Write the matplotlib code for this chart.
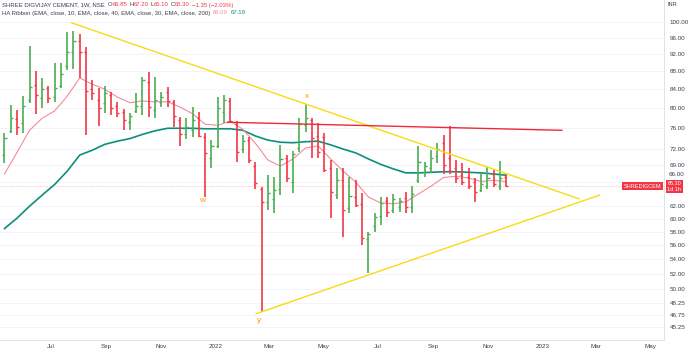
import matplotlib
matplotlib.use("Agg")
import matplotlib.pyplot as plt
import matplotlib.dates as mdates
import matplotlib.ticker as mticker
import matplotlib.transforms as mtransforms
import numpy as np
import pandas as pd

plt.rcParams['font.family'] = ['Liberation Sans Narrow', 'Liberation Sans', 'DejaVu Sans']

# weekly OHLC bars, first bar week of 2021-05-10
first_week = "2021-05-10"
opens = [70.8, 75.3, 77.7, 76.9, 81.7, 84.9, 82.1, 84.2, 82.3, 84.7,
         89.2, 92.5, 95.2, 92.5, 84.0, 81.7, 81.1, 82.7, 80.4, 79.2,
         77.1, 79.4, 80.4, 85.6, 79.6, 81.3, 83.4, 81.3, 77.5, 74.7,
         75.5, 77.9, 74.2, 70.3, 72.5, 79.2, 81.5, 76.7, 71.9, 73.6,
         68.8, 64.9, 62.7, 63.2, 64.9, 70.3, 66.0, 72.1, 76.5, 77.5,
         74.4, 74.2, 68.5, 63.8, 66.3, 61.7, 63.5, 62.4, 57.0, 58.9,
         60.4, 62.8, 61.4, 61.9, 63.3, 61.9, 66.3, 67.7, 68.5, 70.6,
         73.0, 70.3, 68.5, 67.2, 66.8, 66.0, 64.6, 65.3, 67.4, 65.3,
         66.85]
highs = [74.9, 80.6, 79.6, 82.5, 94.0, 88.1, 86.5, 84.7, 89.9, 89.9,
         97.4, 97.6, 96.9, 93.7, 86.0, 84.2, 84.7, 83.4, 81.3, 79.8,
         79.0, 83.2, 86.7, 87.8, 86.7, 83.4, 84.5, 81.7, 78.1, 77.9,
         80.2, 79.2, 74.9, 73.6, 82.3, 82.7, 82.1, 77.3, 74.5, 74.2,
         69.5, 65.1, 67.2, 66.8, 72.7, 70.8, 71.5, 77.9, 80.9, 77.9,
         76.9, 74.9, 69.9, 68.5, 68.5, 66.8, 66.3, 64.1, 58.0, 60.9,
         63.5, 63.5, 64.0, 63.3, 64.3, 65.3, 72.5, 69.5, 71.7, 73.0,
         74.5, 76.3, 69.9, 69.4, 68.5, 66.7, 67.6, 68.6, 68.1, 69.7,
         67.20]
lows = [69.4, 74.9, 74.5, 74.9, 81.1, 78.8, 80.0, 81.1, 81.3, 84.2,
        88.3, 88.5, 86.5, 74.5, 81.7, 76.3, 79.0, 78.6, 78.2, 75.5,
        75.5, 79.0, 78.6, 78.2, 77.9, 80.2, 80.2, 76.1, 72.5, 73.8,
        74.2, 74.2, 63.5, 68.5, 72.1, 76.9, 76.9, 69.5, 71.2, 69.4,
        64.9, 47.1, 61.4, 60.9, 63.8, 66.0, 64.1, 71.3, 75.1, 70.3,
        70.3, 67.7, 60.1, 63.2, 57.2, 60.9, 61.9, 56.0, 52.1, 58.0,
        59.1, 60.3, 60.9, 61.1, 60.9, 60.9, 65.8, 66.8, 67.6, 69.4,
        67.4, 67.4, 65.8, 65.5, 64.9, 62.7, 64.3, 64.9, 65.1, 64.6,
        65.10]
closes = [74.0, 77.9, 76.1, 80.4, 84.5, 82.7, 84.0, 82.1, 84.2, 87.4,
          92.5, 95.2, 92.5, 83.6, 83.2, 80.0, 83.2, 80.0, 79.0, 77.5,
          78.3, 80.4, 86.0, 80.2, 81.7, 82.3, 81.5, 78.3, 74.7, 76.1,
          77.5, 74.4, 71.2, 72.5, 80.0, 81.7, 77.3, 71.3, 73.4, 69.9,
          65.8, 62.7, 64.1, 64.6, 70.1, 66.7, 71.0, 76.7, 77.9, 74.0,
          71.3, 68.1, 64.3, 66.3, 61.4, 63.6, 62.2, 57.1, 57.7, 60.3,
          62.5, 61.1, 63.2, 62.8, 61.9, 64.0, 69.5, 68.8, 70.3, 71.9,
          69.0, 67.9, 66.7, 66.1, 65.3, 64.4, 65.6, 66.7, 65.6, 66.65,
          65.30]

ema_fast = [67.4, 71.3, 75.5, 77.9, 79.4, 82.5, 86.5, 85.1, 84.0, 82.3,
            81.1, 81.5, 81.3, 81.3, 80.2, 78.8, 76.7, 76.5, 77.3, 75.7,
            73.0, 69.9, 68.8, 70.1, 72.1, 72.5, 70.1, 67.9, 66.0, 63.5,
            62.5, 62.4, 62.7, 64.0, 65.3, 66.8, 67.0, 66.7, 66.1, 66.3,
            66.09]
ema_slow = [58.5, 60.1, 62.0, 63.8, 65.6, 67.9, 70.8, 71.7, 72.8, 73.4,
            73.9, 74.7, 75.4, 75.9, 75.9, 75.9, 75.8, 75.8, 75.8, 75.5,
            74.4, 73.6, 73.2, 73.1, 73.3, 73.4, 72.7, 71.9, 71.2, 70.1,
            69.1, 68.3, 67.6, 67.6, 67.7, 67.8, 67.8, 67.7, 67.6, 67.4,
            67.19]

# drawings (date, price)
upper_trend = [("2021-07-24", 99.8), ("2023-02-10", 63.2)]
lower_trend = [("2022-02-15", 46.9), ("2023-03-05", 63.8)]
resistance = [("2022-01-14", 77.1), ("2023-01-22", 75.5)]
wave_labels = [("w", "2021-12-17", 63.0), ("y", "2022-02-18", 46.1), ("x", "2022-04-13", 82.5)]

price_ticks = [100, 96, 92, 88, 84, 80, 76, 72, 69, 66, 62, 60, 58, 56, 54, 52, 50, 48.25, 46.75, 45.25]
month_ticks = ["2021-07-01", "2021-09-01", "2021-11-01", "2022-01-01", "2022-03-01", "2022-05-01",
               "2022-07-01", "2022-09-01", "2022-11-01", "2023-01-01", "2023-03-01", "2023-05-01"]
month_labels = ["Jul", "Sep", "Nov", "2022", "Mar", "May", "Jul", "Sep", "Nov", "2023", "Mar", "May"]
last_price = 65.30
pushed_tick = 66  # its label is pushed up by the price tag, as on TradingView

GREEN = "#4aad52"
RED = "#f23645"
TEAL = "#0b8f7c"
PINK = "#f48c95"
YELLOW = "#f7dc14"
ORANGE = "#ff9800"
TXT = "#3b3f4a"

W, H = 690, 353
fig = plt.figure(figsize=(W / 100, H / 100), dpi=100)
ax = fig.add_axes([0, 13 / H, 664 / W, 340 / H])

dates = pd.date_range(first_week, periods=len(opens), freq="7D")
x = mdates.date2num(dates)
o = np.array(opens)
c = np.array(closes)
cols = np.where(c >= o, GREEN, RED)

ax.plot(x[::2], ema_slow, color=TEAL, lw=1.2, zorder=2)
ax.plot(x[::2], ema_fast, color=PINK, lw=0.8, zorder=2)

ax.vlines(x, lows, highs, colors=cols, lw=1.2, zorder=3)
ax.hlines(o, x - 2.3, x, colors=cols, lw=1.0, zorder=3)
ax.hlines(c, x, x + 2.3, colors=cols, lw=1.0, zorder=3)

for line, col in [(upper_trend, YELLOW), (lower_trend, YELLOW), (resistance, "#f0283a")]:
    xs = mdates.date2num(pd.to_datetime([p[0] for p in line]))
    ys = [p[1] for p in line]
    ax.plot(xs, ys, color=col, lw=1.0, zorder=4)

for s, d, p in wave_labels:
    ax.text(mdates.date2num(pd.Timestamp(d)), p, s, color=ORANGE, fontsize=6,
            ha="center", va="center", zorder=5)

ax.axhline(last_price, color=RED, alpha=0.25, lw=0.8, ls=(0, (1, 1)), zorder=1)

ax.set_yscale("log")
ax.set_ylim(43.8, 105.9)
ax.set_xlim(mdates.date2num(pd.Timestamp("2021-05-05")), mdates.date2num(pd.Timestamp("2023-05-16")))

ax.yaxis.set_major_locator(mticker.FixedLocator(price_ticks))
ax.yaxis.set_minor_locator(mticker.NullLocator())
ax.yaxis.set_major_formatter(mticker.FuncFormatter(
    lambda v, pos: "" if abs(v - pushed_tick) < 1e-6 else f"{v:.2f}"))
ax.yaxis.tick_right()
ax.tick_params(axis="y", length=0, pad=4, labelsize=4.5, labelcolor=TXT)

ax.xaxis.set_major_locator(mticker.FixedLocator(mdates.date2num(pd.to_datetime(month_ticks))))
ax.xaxis.set_minor_locator(mticker.NullLocator())
ax.set_xticklabels(month_labels)
ax.tick_params(axis="x", length=0, pad=3, labelsize=4.5, labelcolor=TXT)

ax.grid(axis="y", color="#f0f3fa", lw=0.6)
ax.set_axisbelow(True)
for side in ["top", "left"]:
    ax.spines[side].set_visible(False)
ax.spines["right"].set_color("#e0e3eb")
ax.spines["bottom"].set_color("#e0e3eb")
ax.spines["right"].set_linewidth(0.7)
ax.spines["bottom"].set_linewidth(0.7)

# last price tags
trans = mtransforms.blended_transform_factory(ax.transAxes, ax.transData)
ax.text(0.996, last_price, "SHREDIGCEM", transform=trans, ha="right", va="center",
        fontsize=4, color="white", zorder=6,
        bbox=dict(boxstyle="square,pad=0.3", fc=RED, ec="none"))
ax.annotate(f"{last_price:.2f}\n1d 1h", xy=(1.0, last_price), xycoords=trans,
            xytext=(2.5, 3.5), textcoords="offset points", ha="left", va="top",
            fontsize=4, color="white", linespacing=1.1, annotation_clip=False,
            bbox=dict(boxstyle="square,pad=0.3", fc=RED, ec="none"))
ax.annotate(f"{pushed_tick:.2f}", xy=(1.0, pushed_tick), xycoords=trans,
            xytext=(3, 5.5), textcoords="offset points", ha="left", va="center",
            fontsize=4.5, color=TXT, annotation_clip=False)
fig.text(668 / W, 1 - 5 / H, "INR", fontsize=4, color=TXT, va="center")

# legend lines at the top left
renderer = fig.canvas.get_renderer()


def text_run(x_px, y_px, pieces, size=4.3):
    for s, col, gap in pieces:
        t = fig.text(x_px / W, 1 - y_px / H, s, color=col, fontsize=size, va="center")
        x_px += t.get_window_extent(renderer=renderer).width + gap


text_run(2, 5, [("SHREE DIGVIJAY CEMENT, 1W, NSE", TXT, 3),
                ("O", TXT, 0), ("66.85", RED, 2), ("H", TXT, 0), ("67.20", RED, 2),
                ("L", TXT, 0), ("65.10", RED, 2), ("C", TXT, 0), ("65.30", RED, 2),
                ("\u22121.35 (\u22122.03%)", RED, 0)])
text_run(2, 13, [("HA Ribbon (EMA, close, 10, EMA, close, 40, EMA, close, 30, EMA, close, 200)", TXT, 3),
                 ("66.09", PINK, 3), ("67.19", TEAL, 0)])

fig.savefig("out.png", dpi=100)
